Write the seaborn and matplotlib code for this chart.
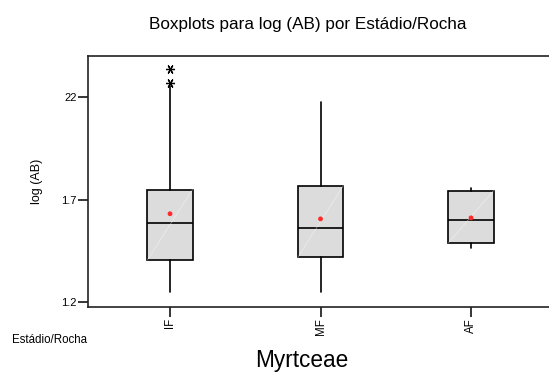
import matplotlib
matplotlib.use("Agg")
import matplotlib.pyplot as plt
import seaborn as sns
import numpy as np

sns.set_theme(style="white")
plt.rcParams['font.family'] = ['Liberation Sans', 'DejaVu Sans']
plt.rcParams['text.color'] = 'black'
plt.rcParams['axes.labelcolor'] = 'black'
plt.rcParams['xtick.color'] = 'black'
plt.rcParams['ytick.color'] = 'black'

# data
categories = ["IF", "MF", "AF"]
q1 = [1.407, 1.420, 1.490]
medians = [1.589, 1.562, 1.602]
q3 = [1.750, 1.768, 1.745]
whisker_low = [1.250, 1.250, 1.464]
whisker_high = [2.255, 2.177, 1.760]
means = [1.632, 1.607, 1.612]
outliers = [[2.272, 2.340], [], []]
ytick_values = [1.2, 1.7, 2.2]
ytick_labels = ["1.2", "1.7", "22"]

fig = plt.figure(figsize=(5.49, 3.72), dpi=100)
ax = fig.add_axes([88/549, 1-307/372, 1-88/549, (307-56)/372])

positions = np.arange(len(categories))
stats = []
for i, c in enumerate(categories):
    stats.append(dict(label=c, q1=q1[i], med=medians[i], q3=q3[i],
                      whislo=whisker_low[i], whishi=whisker_high[i], fliers=[]))
ax.bxp(stats, positions=positions, widths=0.3, patch_artist=True, showcaps=False,
       showfliers=False,
       boxprops=dict(facecolor="#dcdcdc", edgecolor="black", linewidth=1.2),
       medianprops=dict(color="black", linewidth=1.2),
       whiskerprops=dict(color="black", linewidth=1.2))

# faint diagonal inside boxes
for i, p in enumerate(positions):
    ax.plot([p-0.15, p+0.15], [q1[i], q3[i]], color="white", lw=0.5, alpha=0.5, zorder=3)

# means
sns.scatterplot(x=positions, y=means, ax=ax, color="#ff2a2a", s=12, marker="o",
                edgecolor="none", zorder=5, legend=False)
# outliers
ox = [positions[i] for i, o in enumerate(outliers) for _ in o]
oy = [v for o in outliers for v in o]
ax.plot(ox, oy, linestyle="none", marker=(6, 2, 90), markersize=6.5, color="black",
        markeredgewidth=0.9, zorder=5)

ax.set_xlim(-0.545, 2.518)
ax.set_ylim(1.1771, 2.4015)
ax.set_xticks(positions)
ax.set_xticklabels(categories, rotation=90, fontsize=8.3)
ax.set_yticks(ytick_values)
ax.set_yticklabels(ytick_labels, fontsize=8)
ax.tick_params(axis="y", direction="out", length=7, width=1.1, pad=1, color="black", left=True)
ax.tick_params(axis="x", direction="out", length=7, width=1.1, pad=1, color="black", bottom=True)
for s in ["left", "top", "bottom"]:
    ax.spines[s].set_visible(True)
    ax.spines[s].set_color("#222222")
    ax.spines[s].set_linewidth(1.2)
ax.spines["right"].set_visible(False)
ax.set_ylabel("log (AB)", fontsize=9, labelpad=13)
ax.set_xlabel("")

fig.text(307.5/549, 1-29.3/372, "Boxplots para log (AB) por Estádio/Rocha", ha="center", va="baseline", fontsize=12.3)
fig.text(301.5/549, 1-367.3/372, "Myrtceae", ha="center", va="baseline", fontsize=16.3)
fig.text(12/549, 1-343.3/372, "Estádio/Rocha", ha="left", va="baseline", fontsize=8.3)

fig.savefig("out.png", dpi=100)
